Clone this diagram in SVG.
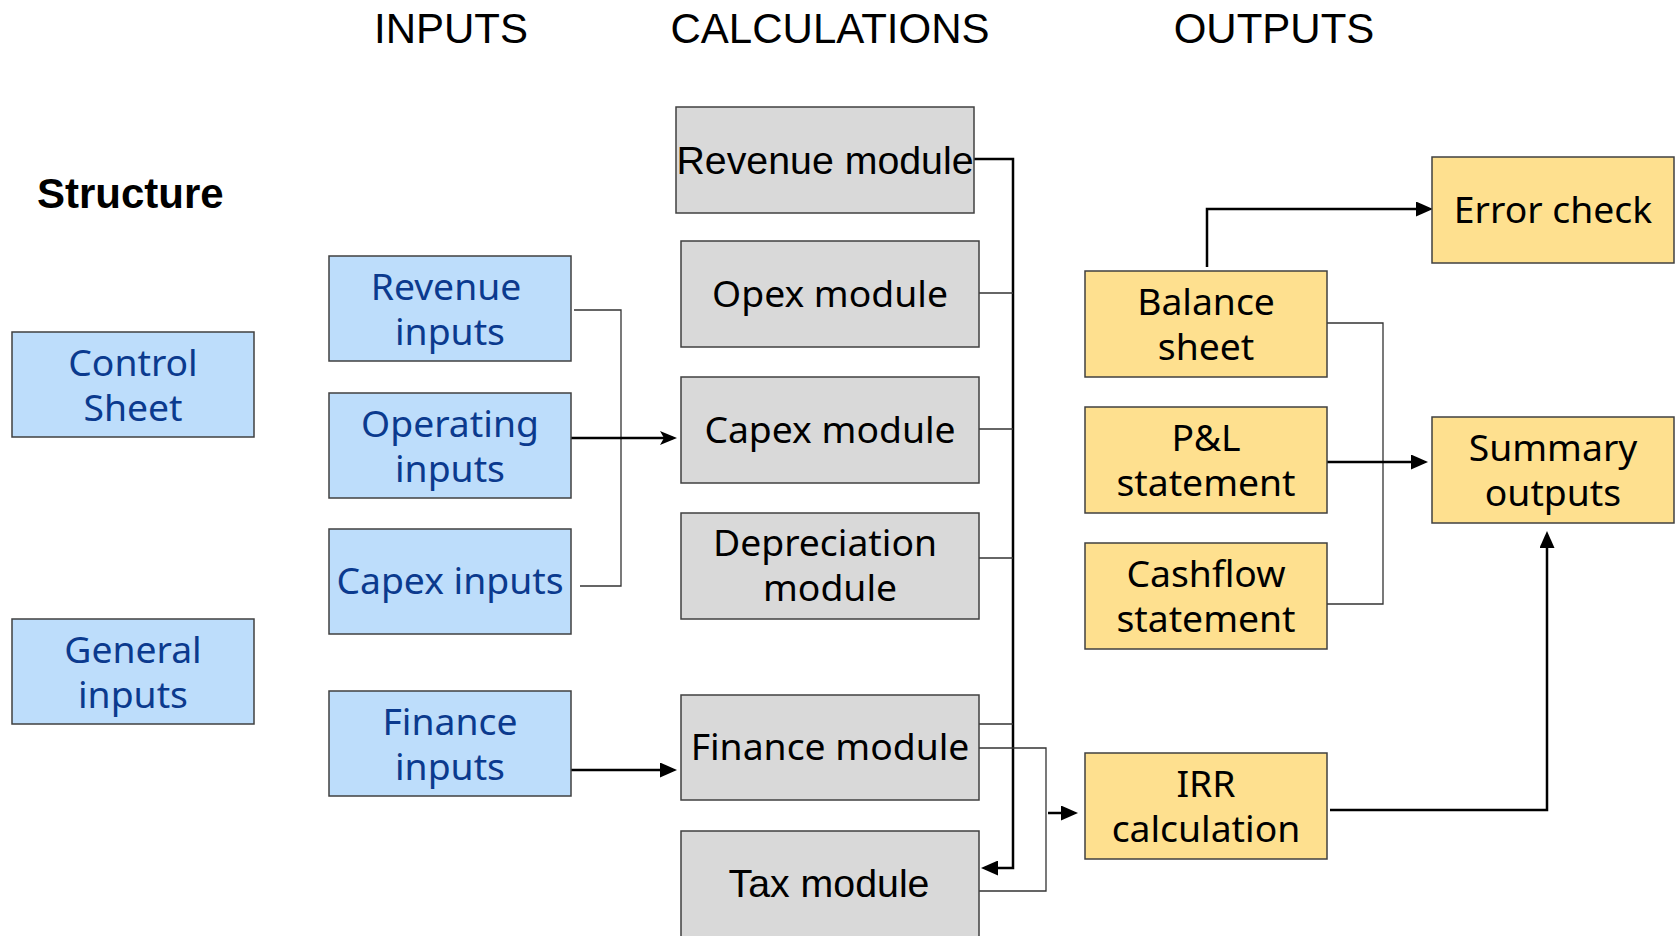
<svg xmlns="http://www.w3.org/2000/svg" width="1679" height="936" viewBox="0 0 1679 936">
<defs>
<style>
.bg{fill:#ffffff}
.box{stroke:#404040;stroke-width:1.5}
.blue{fill:#BDDDFB}
.grey{fill:#D9D9D9}
.yel{fill:#FEE08F}
.hdr{font-family:"Liberation Sans",Arial,sans-serif;font-size:42px;fill:#000;text-anchor:middle}
.bold{font-family:"Liberation Sans",Arial,sans-serif;font-size:42px;font-weight:bold;fill:#000}
.tb{font-family:"Noto Sans","Open Sans",sans-serif;font-size:37.3px;fill:#0B3A8E;text-anchor:middle}
.tk{font-family:"Noto Sans","Open Sans",sans-serif;font-size:37.3px;fill:#000;text-anchor:middle}
.ta{font-family:"Liberation Sans",Arial,sans-serif;font-size:39.3px;fill:#000;text-anchor:middle}
.thin{fill:none;stroke:#333;stroke-width:1.3}
.thick{fill:none;stroke:#000;stroke-width:2.5}
</style>
<marker id="ah" markerUnits="userSpaceOnUse" markerWidth="17" markerHeight="15" refX="13" refY="7.5" orient="auto">
<path d="M0,0 L17,7.5 L0,15 z" fill="#000"/>
</marker>
<marker id="st" markerUnits="userSpaceOnUse" markerWidth="17" markerHeight="15" refX="13" refY="7.5" orient="auto">
<path d="M0,0.5 L17,7.5 L0,14.5 L4,7.5 z" fill="#000"/>
</marker>
</defs>
<rect class="bg" x="0" y="0" width="1679" height="936"/>

<g id="titles">
<text class="hdr" x="451" y="43">INPUTS</text>
<text class="hdr" x="830" y="43">CALCULATIONS</text>
<text class="hdr" x="1274" y="43">OUTPUTS</text>
<text class="bold" x="37" y="208">Structure</text>
</g>

<g id="connectors">
<path class="thin" d="M574,310 H621 V586 H580"/>
<path class="thick" d="M571,438 H673" marker-end="url(#st)"/>
<path class="thick" d="M571,770 H673" marker-end="url(#ah)"/>
<path class="thick" d="M974,159 H1013 V868 H985" marker-end="url(#ah)"/>
<path class="thin" d="M979,293 H1013"/>
<path class="thin" d="M979,429 H1013"/>
<path class="thin" d="M979,558 H1013"/>
<path class="thin" d="M979,724 H1013"/>
<path class="thin" d="M979,748 H1046 V891 H977"/>
<path class="thick" d="M1048,813 H1074" marker-end="url(#ah)"/>
<path class="thick" d="M1207,267 V209 H1429" marker-end="url(#ah)"/>
<path class="thin" d="M1327,323 H1383 V604 H1327"/>
<path class="thick" d="M1325,462 H1424" marker-end="url(#ah)"/>
<path class="thick" d="M1330,810 H1547 V535" marker-end="url(#ah)"/>
</g>

<g id="control-sheet">
<rect class="box blue" x="12" y="332" width="242" height="105"/>
<text class="tb" x="133" y="376">Control</text>
<text class="tb" x="133" y="421">Sheet</text>
</g>
<g id="general-inputs">
<rect class="box blue" x="12" y="619" width="242" height="105"/>
<text class="tb" x="133" y="663">General</text>
<text class="tb" x="133" y="708">inputs</text>
</g>
<g id="revenue-inputs">
<rect class="box blue" x="329" y="256" width="242" height="105"/>
<text class="tb" x="446" y="300">Revenue</text>
<text class="tb" x="450" y="345">inputs</text>
</g>
<g id="operating-inputs">
<rect class="box blue" x="329" y="393" width="242" height="105"/>
<text class="tb" x="450" y="437">Operating</text>
<text class="tb" x="450" y="482">inputs</text>
</g>
<g id="capex-inputs">
<rect class="box blue" x="329" y="529" width="242" height="105"/>
<text class="tb" x="450" y="594">Capex inputs</text>
</g>
<g id="finance-inputs">
<rect class="box blue" x="329" y="691" width="242" height="105"/>
<text class="tb" x="450" y="735">Finance</text>
<text class="tb" x="450" y="780">inputs</text>
</g>

<g id="revenue-module">
<rect class="box grey" x="676" y="107" width="298" height="106"/>
<text class="ta" x="825" y="174">Revenue module</text>
</g>
<g id="opex-module">
<rect class="box grey" x="681" y="241" width="298" height="106"/>
<text class="tk" x="830" y="307">Opex module</text>
</g>
<g id="capex-module">
<rect class="box grey" x="681" y="377" width="298" height="106"/>
<text class="tk" x="830" y="443">Capex module</text>
</g>
<g id="depreciation-module">
<rect class="box grey" x="681" y="513" width="298" height="106"/>
<text class="tk" x="825" y="556">Depreciation</text>
<text class="tk" x="830" y="601">module</text>
</g>
<g id="finance-module">
<rect class="box grey" x="681" y="695" width="298" height="105"/>
<text class="tk" x="830" y="760">Finance module</text>
</g>
<g id="tax-module">
<rect class="box grey" x="681" y="831" width="298" height="110"/>
<text class="ta" x="829" y="897">Tax module</text>
</g>

<g id="balance-sheet">
<rect class="box yel" x="1085" y="271" width="242" height="106"/>
<text class="tk" x="1206" y="315">Balance</text>
<text class="tk" x="1206" y="360">sheet</text>
</g>
<g id="pl-statement">
<rect class="box yel" x="1085" y="407" width="242" height="106"/>
<text class="tk" x="1206" y="451">P&amp;L</text>
<text class="tk" x="1206" y="496">statement</text>
</g>
<g id="cashflow-statement">
<rect class="box yel" x="1085" y="543" width="242" height="106"/>
<text class="tk" x="1206" y="587">Cashflow</text>
<text class="tk" x="1206" y="632">statement</text>
</g>
<g id="irr-calculation">
<rect class="box yel" x="1085" y="753" width="242" height="106"/>
<text class="tk" x="1206" y="797">IRR</text>
<text class="tk" x="1206" y="842">calculation</text>
</g>
<g id="error-check">
<rect class="box yel" x="1432" y="157" width="242" height="106"/>
<text class="tk" x="1553" y="223">Error check</text>
</g>
<g id="summary-outputs">
<rect class="box yel" x="1432" y="417" width="242" height="106"/>
<text class="tk" x="1553" y="461">Summary</text>
<text class="tk" x="1553" y="506">outputs</text>
</g>
</svg>
